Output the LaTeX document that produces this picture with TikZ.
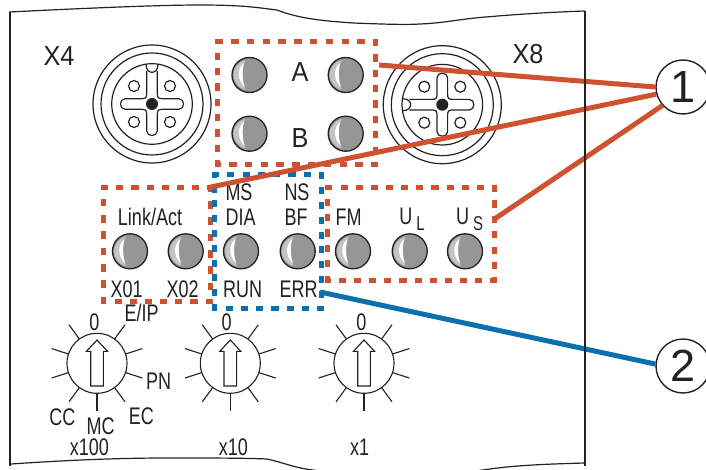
\documentclass[tikz,border=0pt]{standalone}
\usepackage{fontspec}
\setmainfont{Liberation Sans}
\newfontfamily\condf[FakeStretch=0.75]{Liberation Sans}
\newfontfamily\midf[FakeStretch=0.92]{Liberation Sans}
\definecolor{inkc}{HTML}{222222}
\definecolor{orangec}{HTML}{CF5230}
\definecolor{bluec}{HTML}{0B6FB0}
\definecolor{ledc}{HTML}{969696}
\definecolor{ledlight}{HTML}{C4C4C4}
\tikzset{
  lbl/.style={inner sep=0pt,text=inkc,font=\condf\fontsize{24}{24}\selectfont},
  biglbl/.style={inner sep=0pt,text=inkc,font=\midf\fontsize{27.5}{27.5}\selectfont},
  ledn/.style={circle,draw=inkc,fill=ledc,line width=1.3pt,minimum size=35pt,inner sep=0pt},
  framebox/.style={inner sep=0pt},
  oline/.style={draw=orangec,line width=5pt},
  bline/.style={draw=bluec,line width=5pt},
  callout/.style={circle,draw=inkc,fill=white,line width=1.4pt,minimum size=54pt,inner sep=0pt,text=inkc,font=\fontsize{45}{45}\selectfont},
  thin ink/.style={draw=inkc,line width=1.1pt},
  conn/.style={draw=inkc,line width=1.2pt},
  panel/.style={draw=inkc,line width=1.2pt},
  panelside/.style={draw=inkc,line width=2.5pt},
}
\newcommand{\ledat}[3]{%
  \node[ledn] (#1) at (#2,#3) {};
  \fill[ledlight,shift={(#2,#3)}] (-4,-15) .. controls (-20,-10) and (-20,10) .. (-4,15)
     .. controls (-8,8) and (-8,-8) .. (-4,-15) -- cycle;
  \fill[white,shift={(#2,#3)}] (-5.5,-12) .. controls (-13,-7) and (-12,7) .. (-4.5,12)
     .. controls (-7.5,6) and (-7.5,-6) .. (-5.5,-12) -- cycle;
}
% one dashed side, with a whole number of periods, beginning on a corner
\newcommand{\dashside}[4]{% colour, length, from, to
  \pgfmathsetmacro{\nper}{round(#2/15.6)}
  \pgfmathsetmacro{\perd}{#2/\nper}
  \pgfmathsetmacro{\ond}{\perd*0.47}
  \pgfmathsetmacro{\offd}{\perd-\ond}
  \draw[draw=#1,line width=5pt,dash pattern=on \ond pt off \offd pt,shorten <=-2.5pt] (#3) -- (#4);
}
\newcommand{\dashframe}[4]{% node, colour, width, height
  \dashside{#2}{#3}{#1.north west}{#1.north east}
  \dashside{#2}{#4}{#1.north east}{#1.south east}
  \dashside{#2}{#3}{#1.south east}{#1.south west}
  \dashside{#2}{#4}{#1.south west}{#1.north west}
}
\newcommand{\connector}[3]{%
  \begin{scope}[shift={(#1,#2)},rotate=#3]
    \draw[conn] (0,0) circle[radius=59];
    \draw[conn] (0,0) circle[radius=51];
    \draw[conn] (0,0) circle[radius=40.3];
    \fill[inkc] (0,0) circle[radius=6];
    \foreach \sx/\sy in {-18/-18,18/-18,-18/18,18/18}
      \draw[conn] (\sx,\sy) circle[radius=5.5];
    \draw[conn] (-5.3,-33) -- (-5.3,-13) .. controls (-5.3,-5.3) .. (-13,-5.3)
      -- (-27,-5.3) .. controls (-33,-5.3) and (-33,5.3) .. (-27,5.3)
      -- (-13,5.3) .. controls (-5.3,5.3) .. (-5.3,13)
      -- (-5.3,27) .. controls (-5.3,33) and (5.3,33) .. (5.3,27)
      -- (5.3,13) .. controls (5.3,5.3) .. (13,5.3)
      -- (27,5.3) .. controls (33,5.3) and (33,-5.3) .. (27,-5.3)
      -- (13,-5.3) .. controls (5.3,-5.3) .. (5.3,-13)
      -- (5.3,-33);
    \draw[conn] (-6,-39.7) .. controls (-6,-29) and (6,-29) .. (6,-39.7);
  \end{scope}
}
\newcommand{\dial}[2]{%
  \begin{scope}[shift={(#1,#2)}]
    \draw[thin ink] (0,0) circle[radius=30];
    \foreach \a in {36,72,...,324}
      \draw[thin ink] ({30*sin(\a)},{-30*cos(\a)}) -- ({47.7*sin(\a)},{-47.7*cos(\a)});
    \draw[thin ink,line join=miter] (0,-23.3) -- (10.5,-12) -- (6.3,-12) -- (6.3,22.7) -- (-6.3,22.7) -- (-6.3,-12) -- (-10.5,-12) -- cycle;
  \end{scope}
}
\begin{document}
\begin{tikzpicture}[x=1pt,y=-1pt]
\useasboundingbox (0,0) rectangle (706,470);
\clip (0,0) rectangle (706,470);
\fill[white] (0,0) rectangle (706,470);

% round connectors
\connector{152}{104}{0}
\connector{442.3}{104.7}{90}

% LEDs
\ledat{ledA1}{249.5}{75}
\ledat{ledA2}{345.7}{75}
\ledat{ledB1}{249.5}{133.7}
\ledat{ledB2}{345.7}{133.7}
\ledat{ledX1}{130}{251.3}
\ledat{ledX2}{185.7}{251.3}
\ledat{ledRun}{241}{251.3}
\ledat{ledErr}{297.7}{251.3}
\ledat{ledFM}{353}{251.3}
\ledat{ledUL}{409.7}{251.3}
\ledat{ledUS}{465}{251.3}

% dials
\dial{97}{363.3}
\dial{230.3}{363.3}
\dial{364}{363.3}

% labels
\node[biglbl] (tX4) at (59,55.7) {X4};
\node[biglbl] (tX8) at (528,54.5) {X8};
\node[biglbl] (tA) at (300,71.7) {A};
\node[biglbl] (tB) at (300,138) {B};
\node[lbl] (tLink) at (150,216.7) {Link/Act};
\node[lbl] (tMS) at (239,192.7) {MS};
\node[lbl] (tNS) at (297,192.7) {NS};
\node[lbl] (tDIA) at (240.7,217) {DIA};
\node[lbl] (tBF) at (296,217) {BF};
\node[lbl] (tFM) at (348.5,217) {FM};
\node[lbl] (tUL) at (412,219) {U\,\raisebox{-6pt}{\fontsize{20}{20}\selectfont L}};
\node[lbl] (tUS) at (469.7,219) {U\,\raisebox{-6pt}{\fontsize{20}{20}\selectfont S}};
\node[lbl] (tX01) at (126.7,289) {X01};
\node[lbl] (tX02) at (182.7,289) {X02};
\node[lbl] (tRUN) at (242.7,289) {RUN};
\node[lbl] (tERR) at (298.7,289) {ERR};
\node[lbl] (tEIP) at (141.7,313.3) {E/IP};
\node[lbl] (tZa) at (94.3,322.7) {0};
\node[lbl] (tZb) at (226.7,322.7) {0};
\node[lbl] (tZc) at (361.3,322.7) {0};
\node[lbl] (tPN) at (158.7,381.7) {PN};
\node[lbl] (tCC) at (62.3,417.3) {CC};
\node[lbl] (tMC) at (100.7,426) {MC};
\node[lbl] (tEC) at (141.3,416.7) {EC};
\node[lbl] (tH) at (89.3,447.3) {x100};
\node[lbl] (tT) at (233.3,447.3) {x10};
\node[lbl] (tO) at (359.5,447.3) {x1};

% dashed frames
\node[framebox,minimum width=157.7pt,minimum height=123pt] (boxAB) at (296.9,103.2) {};
\node[framebox,minimum width=106.3pt,minimum height=114.4pt] (boxLink) at (156.9,244.5) {};
\node[framebox,minimum width=166.7pt,minimum height=92.3pt] (boxPow) at (411.4,233.9) {};
\node[framebox,minimum width=107pt,minimum height=133.3pt] (boxDia) at (268.2,241.7) {};
\dashframe{boxAB}{orangec}{157.7}{123}
\dashframe{boxLink}{orangec}{106.3}{114.4}
\dashframe{boxPow}{orangec}{166.7}{92.3}
\dashframe{boxDia}{bluec}{107}{133.3}

% callouts
\node[callout] (cA) at (683,87) {1};
\node[callout] (cB) at (683,366) {2};

\coordinate (startA) at (379,65);
\coordinate (startP) at (496,218);
\coordinate (startD) at (320,292);

\draw[oline] (startA) -- (cA.180);
\draw[oline] (boxLink.north east) -- (cA.195);
\draw[oline] (startP) -- (cA.222);
\draw[bline] (startD) -- (cB.176);

% panel outline
\draw[panel] (9,12) .. controls (90,8) and (160,5) .. (200,5)
  .. controls (245,5) and (260,8) .. (277,10)
  .. controls (300,19) and (325,21) .. (353,23)
  .. controls (380,24) and (405,25) .. (420,24)
  .. controls (445,23) and (460,19) .. (486,17)
  .. controls (520,14) and (555,12) .. (585,11);
\draw[panel] (11,464) .. controls (70,460) and (120,458) .. (167,458)
  .. controls (210,458) and (245,458) .. (267,459)
  .. controls (285,463) and (295,468) .. (313,470)
  .. controls (360,478) and (440,476) .. (483,470)
  .. controls (515,465) and (550,464) .. (585,463);
\draw[panelside] (10,12) -- (10,466);
\draw[panelside] (585,11) -- (585,466);
\end{tikzpicture}
\end{document}
